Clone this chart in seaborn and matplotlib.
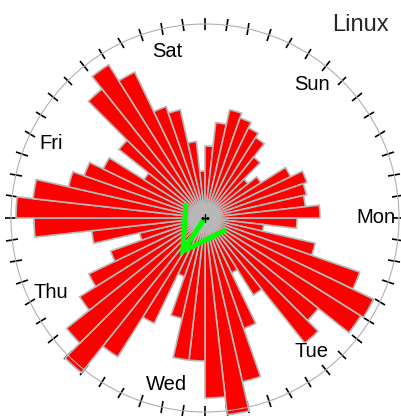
import numpy as np
import pandas as pd
import matplotlib
matplotlib.use("Agg")
import matplotlib.pyplot as plt
import seaborn as sns

# ---- data: activity per 3-hour bin, week starting Monday 00:00 ----
days = ["Mon", "Tue", "Wed", "Thu", "Fri", "Sat", "Sun"]
mon = [92, 59, 113, 164, 187, 184, 145, 160]
tue = [91, 61, 117, 168, 198, 180, 143, 143]
wed = [103, 62, 117, 164, 198, 177, 148, 129]
thu = [100, 67, 114, 171, 189, 173, 140, 128]
fri = [113, 72, 110, 165, 181, 162, 118, 111]
sat = [77, 47, 72, 96, 111, 106, 100, 95]
sun = [78, 55, 66, 95, 108, 104, 101, 115]
bins_per_day = 8
# mean direction vector (degrees clockwise from Monday 00:00) and length
mean_angle_deg = 123.7
mean_length = 40
title = "Linux"

sns.set_style("white")
plt.rcParams['font.family'] = ['Liberation Sans', 'DejaVu Sans']

values = mon + tue + wed + thu + fri + sat + sun
n = len(values)
step = 2 * np.pi / n
theta = (np.arange(n) + 0.5) * step
df = pd.DataFrame({"theta": theta, "count": values})

fig = plt.figure(figsize=(4.02, 4.16), dpi=100)
ax = fig.add_axes([11 / 402, 4 / 416, 388 / 402, 388 / 416], projection='polar')
ax.set_theta_zero_location('E')
ax.set_theta_direction(-1)

sns.barplot(data=df, x="theta", y="count", native_scale=True, width=1.0,
            color="#ff0000", saturation=1, edgecolor="#b8b8b8", linewidth=1.2,
            errorbar=None, ax=ax, clip_on=False, zorder=2)

ax.set_ylim(0, 194)
ax.set_xlabel("")
ax.set_ylabel("")
ax.set_yticks([])
ax.grid(False)
ax.set_xticks(np.arange(n) * step)
ax.set_xticklabels([])
ax.tick_params(axis='x', which='major', direction='inout', length=4.2, width=1.2,
               color='black', bottom=False, top=True)
ax.spines['polar'].set_color('#b0b0b0')
ax.spines['polar'].set_linewidth(0.8)

for k, d in enumerate(days):
    ax.text(k * bins_per_day * step, 171, d, ha='center', va='center',
            fontsize=14.5, color='black')

# mean vector arrow
a = np.deg2rad(mean_angle_deg)
head = 48
half = np.deg2rad(30)
tip = np.array([mean_length * np.cos(a), mean_length * np.sin(a)])
back = a + np.pi
pts = [tip + head * np.array([np.cos(back + half), np.sin(back + half)]),
       tip,
       tip + head * np.array([np.cos(back - half), np.sin(back - half)])]
ht = [np.arctan2(p[1], p[0]) for p in pts]
hr = [np.hypot(p[0], p[1]) for p in pts]
ax.plot([a, a], [0, mean_length], color='#00ff00', lw=3.6,
        solid_capstyle='butt', zorder=5)
ax.plot(ht, hr, color='#00ff00', lw=3.6, solid_capstyle='butt',
        solid_joinstyle='miter', zorder=5)
ax.plot([0], [0], marker='+', color='black', ms=6, mew=1, zorder=6)

fig.text(360 / 402, 1 - 25 / 416, title, ha='center', va='center', fontsize=17)

fig.savefig("out.png", dpi=100)
